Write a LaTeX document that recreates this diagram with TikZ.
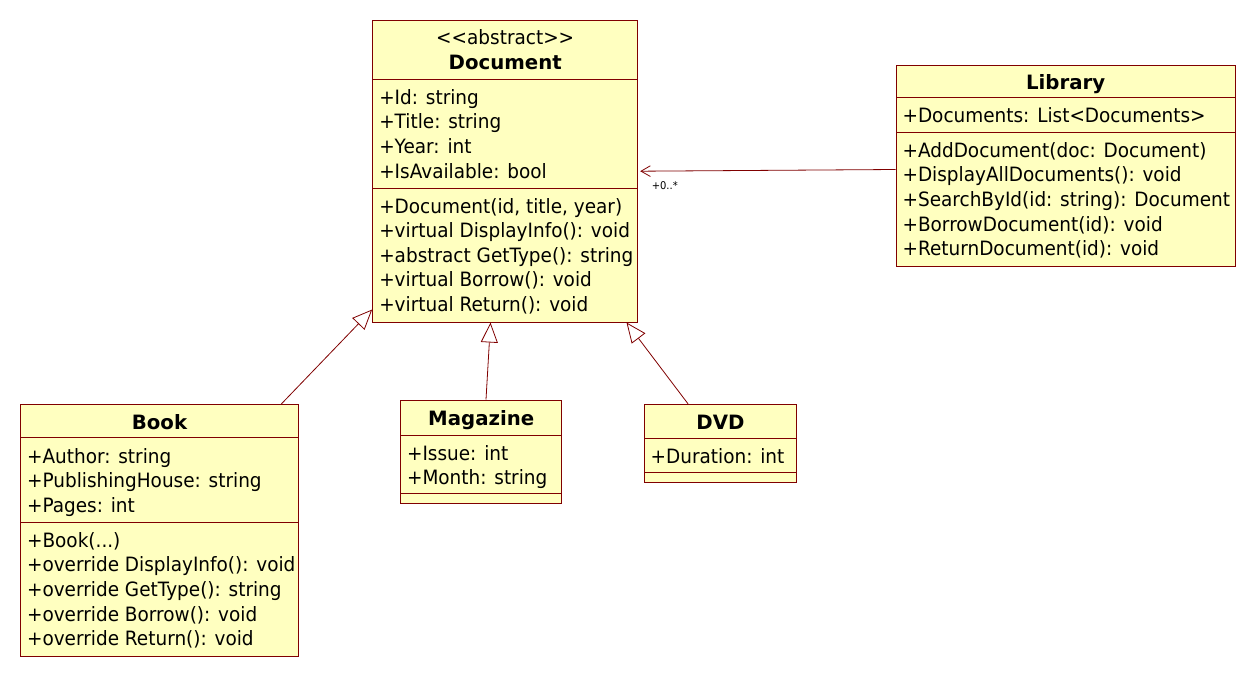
\documentclass[tikz,border=0pt]{standalone}
\usepackage{fontspec}
\setmainfont{DejaVu Sans}[FakeStretch=0.935, Ligatures=TeXOff]
\newfontfamily\boldfam{DejaVu Sans}[FakeStretch=1.0, Ligatures=TeXOff]
\usetikzlibrary{arrows.meta,fit,calc}
\definecolor{umlfill}{RGB}{255,255,192}
\definecolor{umlline}{RGB}{128,0,0}
\tikzset{
  ubox/.style={draw=umlline, fill=umlfill, line width=0.75pt, inner sep=0pt, rectangle},
  uline/.style={draw=umlline, line width=0.75pt},
  txt/.style={anchor=base west, inner sep=0pt, font=\fontsize{14.8pt}{18pt}\selectfont},
  ctxt/.style={anchor=base, inner sep=0pt, font=\fontsize{14.8pt}{18pt}\selectfont},
  htxt/.style={anchor=base, inner sep=0pt, font=\fontsize{14.8pt}{18pt}\selectfont\boldfam\bfseries},
  small/.style={anchor=base west, inner sep=0pt, font=\fontsize{8pt}{9pt}\selectfont},
  gen/.style={draw=umlline, line width=0.6pt, -{Triangle[open, fill=white, length=15pt, width=12.75pt]}},
  assoc/.style={draw=umlline, line width=0.6pt, -{Straight Barb[length=7pt, width=8pt]}},
}
\begin{document}
\begin{tikzpicture}[x=0.75pt, y=-0.75pt]
\useasboundingbox (0,0) rectangle (1256,678);
\fill[white] (0,0) rectangle (1256,678);

% ---------- Document ----------
\node[ubox, fit={(372.7,20) (637.7,322)}] (doc) {};
\draw[uline] (372.7,79.5) -- (637.7,79.5);
\draw[uline] (372.7,188.3) -- (637.7,188.3);
\node[ctxt] (dst) at (505.2,44.5) {<<abstract>>};
\node[htxt] (dname) at (505.2,69.3) {Document};
\node[txt] (da1) at (379,104.3) {+Id: string};
\node[txt] (da2) at (379,128.95) {+Title: string};
\node[txt] (da3) at (379,153.6) {+Year: int};
\node[txt] (da4) at (379,178.25) {+IsAvailable: bool};
\node[txt] (dm1) at (379,213) {+Document(id, title, year)};
\node[txt] (dm2) at (379,237.65) {+virtual DisplayInfo(): void};
\node[txt] (dm3) at (379,262.3) {+abstract GetType(): string};
\node[txt] (dm4) at (379,286.95) {+virtual Borrow(): void};
\node[txt] (dm5) at (379,311.6) {+virtual Return(): void};

% ---------- Library ----------
\node[ubox, fit={(896,65) (1235.3,266.7)}] (lib) {};
\draw[uline] (896,97.7) -- (1235.3,97.7);
\draw[uline] (896,132.3) -- (1235.3,132.3);
\node[htxt] (lname) at (1065.6,89.5) {Library};
\node[txt] (la1) at (902.3,122.7) {+Documents: List<Documents>};
\node[txt] (lm1) at (902.3,157.3) {+AddDocument(doc: Document)};
\node[txt] (lm2) at (902.3,181.95) {+DisplayAllDocuments(): void};
\node[txt] (lm3) at (902.3,206.6) {+SearchById(id: string): Document};
\node[txt] (lm4) at (902.3,231.25) {+BorrowDocument(id): void};
\node[txt] (lm5) at (902.3,255.9) {+ReturnDocument(id): void};

% ---------- Book ----------
\node[ubox, fit={(20.7,404.3) (298.3,656.7)}] (book) {};
\draw[uline] (20.7,437.7) -- (298.3,437.7);
\draw[uline] (20.7,522.3) -- (298.3,522.3);
\node[htxt] (bname) at (159.5,429.3) {Book};
\node[txt] (ba1) at (26.8,463) {+Author: string};
\node[txt] (ba2) at (26.8,487.65) {+PublishingHouse: string};
\node[txt] (ba3) at (26.8,512.3) {+Pages: int};
\node[txt] (bm1) at (26.8,547.3) {+Book(...)};
\node[txt] (bm2) at (26.8,571.95) {+override DisplayInfo(): void};
\node[txt] (bm3) at (26.8,596.6) {+override GetType(): string};
\node[txt] (bm4) at (26.8,621.25) {+override Borrow(): void};
\node[txt] (bm5) at (26.8,645.9) {+override Return(): void};

% ---------- Magazine ----------
\node[ubox, fit={(400.7,400) (561.7,503.3)}] (mag) {};
\draw[uline] (400.7,435) -- (561.7,435);
\draw[uline] (400.7,493.3) -- (561.7,493.3);
\node[htxt] (mname) at (481.2,425.5) {Magazine};
\node[txt] (ma1) at (406.8,460) {+Issue: int};
\node[txt] (ma2) at (406.8,484.65) {+Month: string};

% ---------- DVD ----------
\node[ubox, fit={(644.3,404.3) (796.7,482.3)}] (dvd) {};
\draw[uline] (644.3,438.3) -- (796.7,438.3);
\draw[uline] (644.3,472.3) -- (796.7,472.3);
\node[htxt] (vname) at (720.5,429) {DVD};
\node[txt] (va1) at (650.4,463) {+Duration: int};

% ---------- connectors ----------
\draw[gen] ($(book.north west)+(261.3,0)$) -- ($(doc.north west)+(0,290)$);
\draw[gen] ($(mag.north west)+(85.8,0)$) -- ($(doc.south west)+(118.3,0)$);
\draw[gen] ($(dvd.north west)+(44.2,0)$) -- ($(doc.south east)+(-11.7,0)$);
\draw[assoc] ($(lib.north west)+(0,105)$) -- ($(doc.north east)+(2,151.7)$);
\node[small] (mult) at (651.5,189) {+0..*};
\end{tikzpicture}
\end{document}
